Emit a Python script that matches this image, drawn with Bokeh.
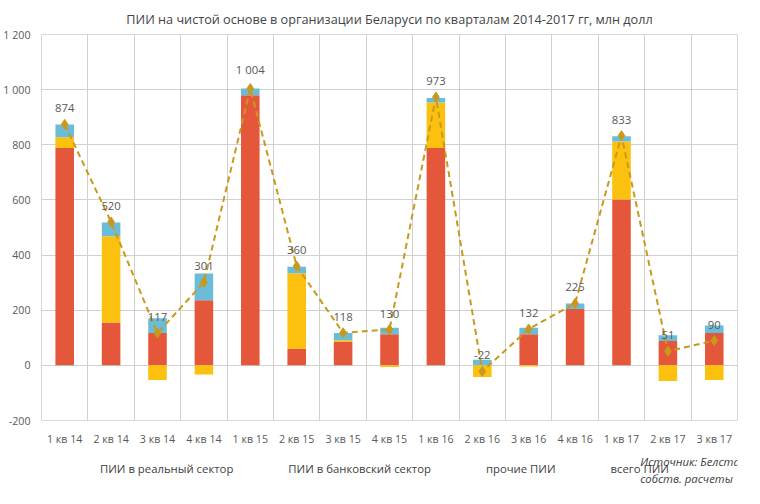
import numpy as np
from bokeh.plotting import figure
from bokeh.layouts import column
from bokeh.models import Label, Legend, LegendItem, FixedTicker, ColumnDataSource
from bokeh.core.properties import value
from bokeh.embed import file_html
from bokeh.resources import INLINE

cats = ["1 кв 14","2 кв 14","3 кв 14","4 кв 14","1 кв 15","2 кв 15","3 кв 15","4 кв 15",
        "1 кв 16","2 кв 16","3 кв 16","4 кв 16","1 кв 17","2 кв 17","3 кв 17"]
real = [788, 155, 117, 236, 980, 60, 85, 113, 788, 0, 113, 204, 602, 88, 117]
bank = [39, 313, -53, -33, 0, 274, 6, -6, 165, -42, -4, 0, 210, -57, -53]
other = [47, 50, 54, 97, 24, 24, 26, 23, 17, 20, 23, 20, 19, 21, 28]
total = [874, 520, 117, 301, 1004, 360, 118, 130, 973, -22, 132, 225, 833, 51, 90]
total_labels = ["874","520","117","301","1 004","360","118","130","973","-22","132","225","833","51","90"]
yticks = [-200, 0, 200, 400, 600, 800, 1000, 1200]
ytick_labels = ["-200","0","200","400","600","800","1 000","1 200"]

FONT = "Open Sans"
colors = ["#E5573A", "#FBC10E", "#6BBCD9"]
lc = "#C9991C"

p = figure(width=744, height=448, output_backend="svg", toolbar_location=None,
           x_range=(-0.5, len(cats) - 0.5), y_range=(-200, 1200),
           min_border_left=10, min_border_right=7, min_border_top=10, min_border_bottom=5,
           title="ПИИ на чистой основе в организации Беларуси по кварталам 2014-2017 гг, млн долл")
p.title.align = "center"
p.title.text_font = FONT
p.title.text_font_style = "normal"
p.title.text_font_size = "9.5pt"
p.title.offset = 0
p.title.standoff = 14
p.outline_line_color = "#d9d9d9"
x = np.arange(len(cats))
pos = np.zeros(len(cats)); neg = np.zeros(len(cats))
for ser, c in zip([real, bank, other], colors):
    v = np.array(ser, dtype=float)
    bottom = np.where(v >= 0, pos, neg)
    top = bottom + v
    p.vbar(x=x, bottom=bottom, top=top, width=0.4, color=c, line_color=None)
    pos = np.where(v >= 0, top, pos); neg = np.where(v < 0, top, neg)

p.line(x, total, line_color=lc, line_width=2, line_dash="6 4")
p.scatter(x, total, marker="diamond", size=10, color=lc)
src = ColumnDataSource(dict(x=x, y=total, t=total_labels))
p.text("x", "y", "t", source=src, text_align="center", text_baseline="bottom", y_offset=-12,
       text_color="#595959", text_font_size="8.5pt", text_font=value(FONT))

p.yaxis.ticker = FixedTicker(ticks=yticks)
p.yaxis.major_label_overrides = {t: l for t, l in zip(yticks, ytick_labels)}
p.xaxis.ticker = FixedTicker(ticks=list(x))
p.xaxis.major_label_overrides = {int(i): c for i, c in enumerate(cats)}
for ax in (p.xaxis, p.yaxis):
    ax.axis_line_color = None
    ax.major_tick_line_color = None
    ax.minor_tick_line_color = None
    ax.major_label_text_font = FONT
    ax.major_label_text_font_size = "8pt"
    ax.major_label_text_color = "#595959"
p.xgrid.ticker = FixedTicker(ticks=[i - 0.5 for i in range(len(cats) + 1)])
p.xgrid.grid_line_color = "#d0d0d0"
p.ygrid.grid_line_color = "#d0d0d0"

# legend strip
q = figure(width=744, height=42, output_backend="svg", toolbar_location=None,
           x_range=(0, 744), y_range=(0, 42), min_border=0)
q.axis.visible = False
q.grid.visible = False
q.outline_line_color = None
r1 = q.vbar(x=[], top=[], width=1, color=colors[0])
r2 = q.vbar(x=[], top=[], width=1, color=colors[1])
r3 = q.vbar(x=[], top=[], width=1, color=colors[2])
r4 = q.line([], [], line_color=lc, line_width=2)
r5 = q.scatter([], [], marker="diamond", size=9, color=lc)
legend = Legend(items=[LegendItem(label="ПИИ в реальный сектор", renderers=[r1]),
                       LegendItem(label="ПИИ в банковский сектор", renderers=[r2]),
                       LegendItem(label="прочие ПИИ", renderers=[r3]),
                       LegendItem(label="всего ПИИ", renderers=[r4, r5])],
                orientation="horizontal", location=(28, 14), border_line_color=None,
                background_fill_alpha=0, label_text_font=FONT, label_text_font_size="8.5pt",
                label_text_color="#404040", spacing=24, glyph_width=26, glyph_height=10, padding=0)
q.add_layout(legend, "center")
q.add_layout(Label(x=640, y=22, text="Источник: Белстат,", text_font=FONT, text_font_style="italic",
                   text_font_size="8.5pt", text_color="#404040"))
q.add_layout(Label(x=640, y=5, text="собств. расчеты", text_font=FONT, text_font_style="italic",
                   text_font_size="8.5pt", text_color="#404040"))

open("out.html", "w").write(file_html(column(p, q, spacing=0), INLINE))
